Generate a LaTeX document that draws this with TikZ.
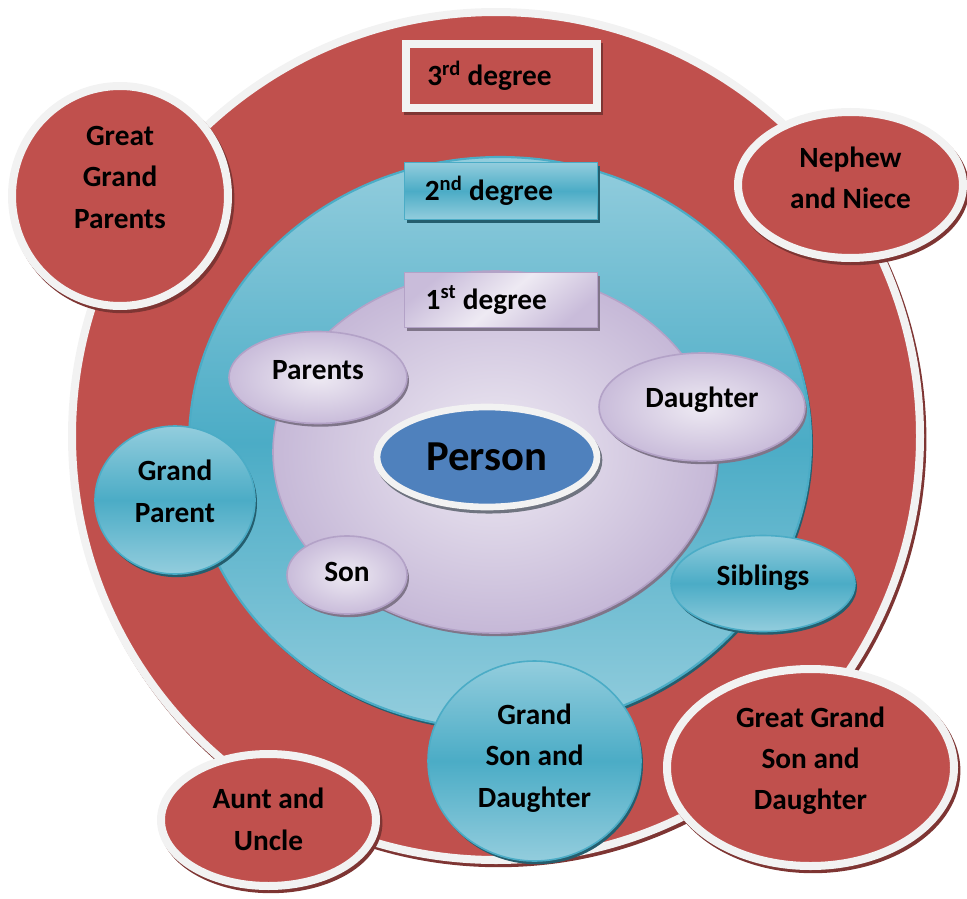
\documentclass[tikz,border=0pt]{standalone}
\usepackage{fontspec}
\setmainfont{Carlito}
\usetikzlibrary{shapes.geometric,shadows}
\definecolor{redF}{HTML}{C0504D}
\definecolor{redS}{HTML}{7E3533}
\definecolor{wb}{HTML}{F2F2F2}
\definecolor{tealM}{HTML}{4BACC6}
\definecolor{tealL}{HTML}{93CDDD}
\definecolor{tealD}{HTML}{245E6E}
\definecolor{lavL}{HTML}{EEEAF3}
\definecolor{lavM}{HTML}{C9BCDA}
\definecolor{lavB}{HTML}{B3A2C7}
\definecolor{lavS}{HTML}{7F7589}
\definecolor{blueP}{HTML}{4F81BD}
\definecolor{grayS}{HTML}{6F7480}
\newcommand\txt[2]{\raisebox{#1}[\height][\depth]{\begin{tabular}{@{}c@{}}#2\end{tabular}}}
\tikzset{
  el/.style 2 args={ellipse, inner sep=0pt, outer sep=0pt, minimum width={#1*1.5pt}, minimum height={#2*1.5pt}},
  bx/.style 2 args={rectangle, inner sep=0pt, outer sep=0pt, minimum width={#1*0.75pt}, minimum height={#2*0.75pt}},
  lbl/.style={font=\bfseries\fontsize{22}{31}\selectfont, text=black},
  redshape/.style={fill=redF, draw=wb, line width=6pt, lbl,
    drop shadow={shadow xshift=1.8pt, shadow yshift=-2.4pt, fill=redS, draw=redS, line width=6pt, opacity=1}},
  tealshape/.style={top color=tealL, bottom color=tealL, middle color=tealM, draw=tealM, line width=1.2pt, lbl,
    drop shadow={shadow xshift=1.5pt, shadow yshift=-2.4pt, fill=tealD, opacity=1}},
  lavshape/.style={inner color=lavL, outer color=lavM, draw=lavB, line width=1.2pt, lbl,
    drop shadow={shadow xshift=1.5pt, shadow yshift=-2.4pt, fill=lavS, opacity=1}},
  lavbox/.style={top color=lavM, bottom color=lavM, middle color=lavL, shading angle=40, draw=lavB, line width=1.2pt, lbl,
    drop shadow={shadow xshift=2pt, shadow yshift=-2.5pt, fill=lavS, opacity=1}},
}
\begin{document}
\begin{tikzpicture}[x=0.75pt,y=-0.75pt]
\useasboundingbox (0,0) rectangle (967,899);
% third degree ring
\node[el={424}{424}, redshape] (big) at (496,436) {};
\node[bx={191}{64}, redshape] (deg3) at (501.5,76) {\hspace*{-18pt}3\textsuperscript{rd} degree};
% outer red relatives
\node[el={108}{110}, redshape] (ggp) at (120,196) {\txt{13pt}{Great\\Grand\\Parents}};
\node[el={112.5}{73}, redshape] (nn) at (850.5,185) {\txt{4pt}{Nephew\\and Niece}};
\node[el={143.5}{98.5}, redshape] (ggsd) at (810.5,767.5) {\txt{5.5pt}{Great Grand\\Son and\\Daughter}};
\node[el={107.5}{66}, redshape] (au) at (268.5,820) {\txt{-1pt}{Aunt and\\Uncle}};
% second degree ring
\node[el={311}{286}, tealshape, line width=1.6pt] (second) at (500,443) {};
\node[bx={193}{57}, tealshape] (deg2) at (501,191) {\hspace*{-18pt}2\textsuperscript{nd} degree};
% first degree ring
\node[el={222}{181}, lavshape, inner color=lavL, outer color=lavM!85!lavB] (first) at (495,452) {};
\node[bx={193}{55}, lavbox] (deg1) at (501,300) {\hspace*{-22pt}1\textsuperscript{st} degree};
% person
\node[el={110}{50}, fill=blueP, draw=wb, line width=5pt, text=black,
  font=\bfseries\fontsize{32}{38}\selectfont,
  drop shadow={shadow xshift=1.5pt, shadow yshift=-2.4pt, fill=grayS, draw=grayS, line width=5pt, opacity=1}] (person) at (487,457) {Person};
% first degree relatives
\node[el={89}{46}, lavshape] (parents) at (318,377.5) {\txt{5pt}{Parents}};
\node[el={103}{54}, lavshape] (daughter) at (702,407) {\txt{6pt}{Daughter}};
\node[el={60}{39}, lavshape] (son) at (347,575) {\txt{1.5pt}{Son}};
% second degree relatives
\node[el={80}{74}, tealshape] (gp) at (175,500) {\txt{5pt}{Grand\\Parent}};
\node[el={92}{48}, tealshape] (sib) at (763,583.5) {\txt{4.5pt}{Siblings}};
\node[el={106.5}{100}, tealshape] (gsd) at (534.5,761) {\txt{2.5pt}{Grand\\Son and\\Daughter}};
\end{tikzpicture}
\end{document}
